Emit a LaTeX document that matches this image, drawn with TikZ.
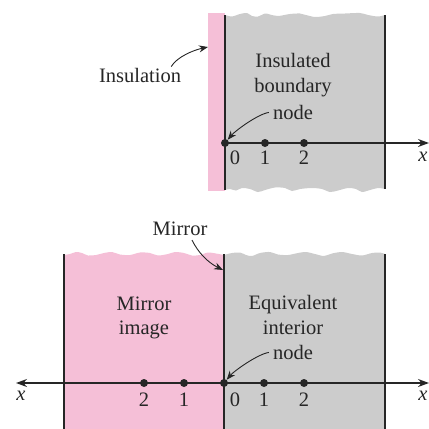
\documentclass[tikz,border=0pt]{standalone}
\usepackage{fontspec}
\setmainfont{Liberation Serif}
\usetikzlibrary{arrows.meta,calc}
\definecolor{pinkfill}{HTML}{F5BFD7}
\definecolor{grayfill}{HTML}{CCCCCC}
\definecolor{ink}{HTML}{262626}
\tikzset{
  lbl/.style={inner sep=1pt, text=ink, font=\fontsize{20.5}{24.5}\selectfont},
  mlbl/.style={lbl, align=center},
  dot/.style={circle, fill=ink, inner sep=0pt, minimum size=8pt},
  wall/.style={draw=ink, line width=1.1pt},
  axis/.style={draw=ink, line width=1.3pt},
  pointer/.style={draw=ink, line width=0.9pt, -{Stealth[length=9pt,width=7pt]}},
  axtip/.style={-{Stealth[length=11pt,width=8pt]}},
}
\begin{document}
\begin{tikzpicture}[x=1pt,y=-1pt]
\useasboundingbox (0,0) rectangle (429,429);

% ---------- top panel ----------
\fill[pinkfill] (208,13) rectangle (225,191);
\fill[grayfill] (225,15) -- plot[smooth] coordinates {(225,15)(232,16.5)(240,14)(247,13)(252,16)(258,16.5)(265,13.5)(270,14.5)(278,16)(290,14)(300,13.5)(306,15)(315,17)(325,16)(333,14)(345,13.5)(360,13)(368,15)(378,16.5)(385,15)}
  -- (385,189) -- plot[smooth] coordinates {(385,189)(378,188)(370,190)(362,192)(356,189)(348,188)(338,190.5)(330,192)(322,189)(312,188)(300,189)(292,191)(285,188)(275,187.5)(265,190)(258,192)(250,189)(242,188)(236,190.5)(230,189)(225,190)} -- cycle;
\coordinate (tl1) at (225,15); \coordinate (tl2) at (225,190);
\coordinate (tr1) at (385,15); \coordinate (tr2) at (385,189);
\draw[wall] (tl1) -- (tl2);
\draw[wall] (tr1) -- (tr2);

\node[dot] (t0) at (225,143) {};
\node[dot] (t1) at (265,143) {};
\node[dot] (t2) at (304,143) {};
\coordinate (tend) at (429,143);
\draw[axis,axtip] (t0.center) -- (tend);
\node[lbl] (t0l) at (235,158) {0};
\node[lbl] (t1l) at (265,158) {1};
\node[lbl] (t2l) at (304,158) {2};
\node[lbl] (txl) at (423,157) {\textit{x}};

\node[lbl] (ins) at (140,75) {Insulation};
\coordinate (strip) at (208,47);
\draw[pointer] ($(ins.north east)+(-11,0)$) .. controls +(6,-10) and +(-14,3) .. (strip);

\node[mlbl] (ib) at (293,75) {Insulated\\boundary};
\node[lbl] (ibn) at (293,112) {node};
\draw[pointer, shorten <=3pt] (ibn.west) .. controls +(-14,2) and +(10,-12) .. (t0);

% ---------- bottom panel ----------
\fill[pinkfill] (64,255) -- plot[smooth] coordinates {(64,255)(70,254)(76,252)(82,253)(88,255.5)(96,255)(104,253)(112,252)(120,254.5)(130,255)(140,252.5)(150,253)(158,255.5)(168,254)(175,252)(184,253)(192,255.5)(200,255)(208,252.5)(216,253.5)(224,255)} -- (224,429) -- (64,429) -- cycle;
\fill[grayfill] (224,255) -- plot[smooth] coordinates {(224,255)(232,253)(240,252.5)(246,255)(252,256)(260,253)(270,252)(278,254.5)(288,255)(298,253)(306,252)(315,254)(324,256)(332,253.5)(342,252)(352,254)(362,255.5)(372,253)(380,252.5)(385,254)} -- (385,429) -- (224,429) -- cycle;
\coordinate (bl1) at (64,254); \coordinate (bl2) at (64,429);
\coordinate (bm1) at (224,254); \coordinate (bm2) at (224,429);
\coordinate (br1) at (385,254); \coordinate (br2) at (385,429);
\draw[wall] (bl1) -- (bl2);
\draw[wall] (bm1) -- (bm2);
\draw[wall] (br1) -- (br2);

\node[dot] (bL2) at (144,383) {};
\node[dot] (bL1) at (184,383) {};
\node[dot] (b0) at (224,383) {};
\node[dot] (bR1) at (264,383) {};
\node[dot] (bR2) at (304,383) {};
\coordinate (bstart) at (16,383);
\coordinate (bend) at (429,383);
\draw[axis,axtip] (b0.center) -- (bend);
\draw[axis,axtip] (b0.center) -- (bstart);
\node[lbl] (bL2l) at (144,400) {2};
\node[lbl] (bL1l) at (184,400) {1};
\node[lbl] (b0l) at (235,400) {0};
\node[lbl] (bR1l) at (264,400) {1};
\node[lbl] (bR2l) at (304,400) {2};
\node[lbl] (bxl) at (21,396) {\textit{x}};
\node[lbl] (bxr) at (423,396) {\textit{x}};

\node[lbl] (mir) at (180,229) {Mirror};
\coordinate (mirpt) at (223,270);
\draw[pointer] ($(mir.south)+(12,3)$) .. controls +(6,12) and +(-16,-8) .. (mirpt);

\node[mlbl] (mi) at (144,318) {Mirror\\image};
\node[mlbl] (eq) at (293,315) {Equivalent\\interior};
\node[lbl] (eqn) at (293,352) {node};
\draw[pointer, shorten <=3pt] (eqn.west) .. controls +(-14,2) and +(10,-12) .. (b0);
\end{tikzpicture}
\end{document}
